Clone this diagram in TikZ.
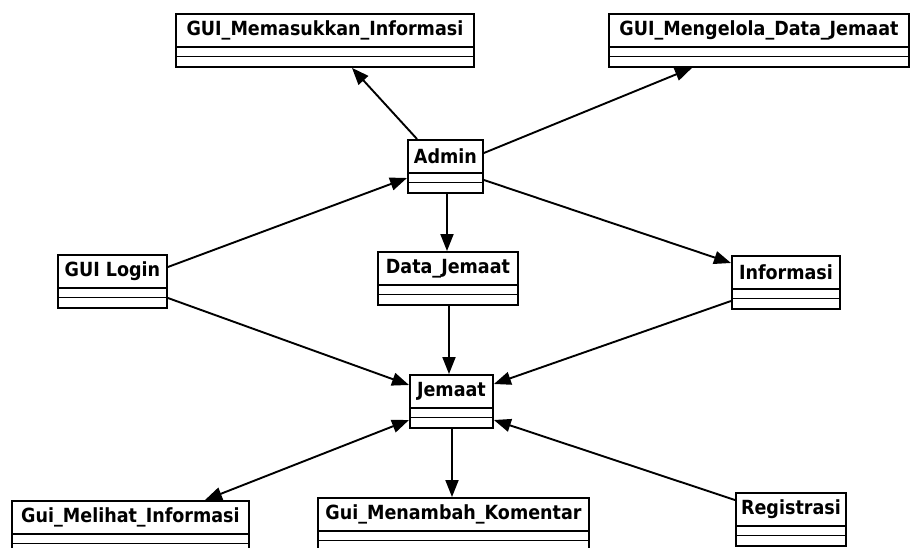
\documentclass[tikz,border=0pt]{standalone}
\usepackage{fontspec}
\setmainfont{DejaVu Sans Condensed}
\usetikzlibrary{arrows.meta,calc}
\tikzset{
  classbox/.style={draw=black, line width=1.9pt, fill=white, rectangle, inner sep=0pt, anchor=north west, minimum height=53pt},
  classname/.style={font=\fontsize{19.5}{19.5}\selectfont\bfseries, text=black, inner sep=0pt},
  assoc/.style={line width=1.9pt, -{Triangle[length=17pt,width=13pt]}},
  assocboth/.style={line width=1.9pt, {Triangle[length=17pt,width=13pt]}-{Triangle[length=17pt,width=13pt]}},
}
\newcommand\umlcls[5]{% id, left, top, right, text
  \node[classbox, minimum width={#4-#2}] (#1) at (#2,#3) {};
  \draw[line width=1.9pt] ($(#1.north west)+(0,34)$) -- ($(#1.north east)+(0,34)$);
  \draw[line width=1.9pt] ($(#1.north west)+(0,43.5)$) -- ($(#1.north east)+(0,43.5)$);
  \node[classname] (#1-t) at ($(#1.north)+(0,17.5)$) {#5};
}
\begin{document}
\begin{tikzpicture}[x=1pt,y=-1pt]
\clip (0,0) rectangle (910,548);
\fill[white] (0,0) rectangle (910,548);
\umlcls{gmi}{175}{13}{473}{GUI\_Memasukkan\_Informasi}
\umlcls{gmd}{608}{13}{908}{GUI\_Mengelola\_Data\_Jemaat}
\umlcls{admin}{407}{139}{482}{Admin}
\umlcls{login}{57}{254}{166}{GUI Login}
\umlcls{dj}{377}{251}{517}{Data\_Jemaat}
\umlcls{info}{731}{255}{839}{Informasi}
\umlcls{jem}{409}{374}{492}{Jemaat}
\umlcls{reg}{735}{492}{845}{Registrasi}
\umlcls{gml}{11}{500}{248}{Gui\_Melihat\_Informasi}
\umlcls{gmk}{317}{497}{588}{Gui\_Menambah\_Komentar}

\draw[assoc] ($(admin.north west)+(10,0)$) -- ($(gmi.south west)+(177,0)$);
\draw[assoc] ($(admin.north east)+(0,14)$) -- ($(gmd.south west)+(84,0)$);
\draw[assoc] ($(login.north east)+(0,13)$) -- ($(admin.north west)+(0,39)$);
\draw[assoc] ($(admin.south west)+(40,0)$) -- ($(dj.north west)+(70,0)$);
\draw[assoc] ($(admin.north east)+(0,41)$) -- ($(info.north west)+(0,8)$);
\draw[assoc] ($(login.north east)+(0,44)$) -- ($(jem.north west)+(0,11)$);
\draw[assoc] ($(dj.south west)+(72,0)$) -- ($(jem.north west)+(40,0)$);
\draw[assoc] ($(info.north west)+(0,46)$) -- ($(jem.north east)+(0,10)$);
\draw[assocboth] ($(jem.north west)+(0,46)$) -- ($(gml.north west)+(194,0)$);
\draw[assoc] ($(jem.south west)+(43,0)$) -- ($(gmk.north west)+(135,0)$);
\draw[assoc] ($(reg.north west)+(0,8)$) -- ($(jem.north east)+(0,46)$);
\end{tikzpicture}
\end{document}
